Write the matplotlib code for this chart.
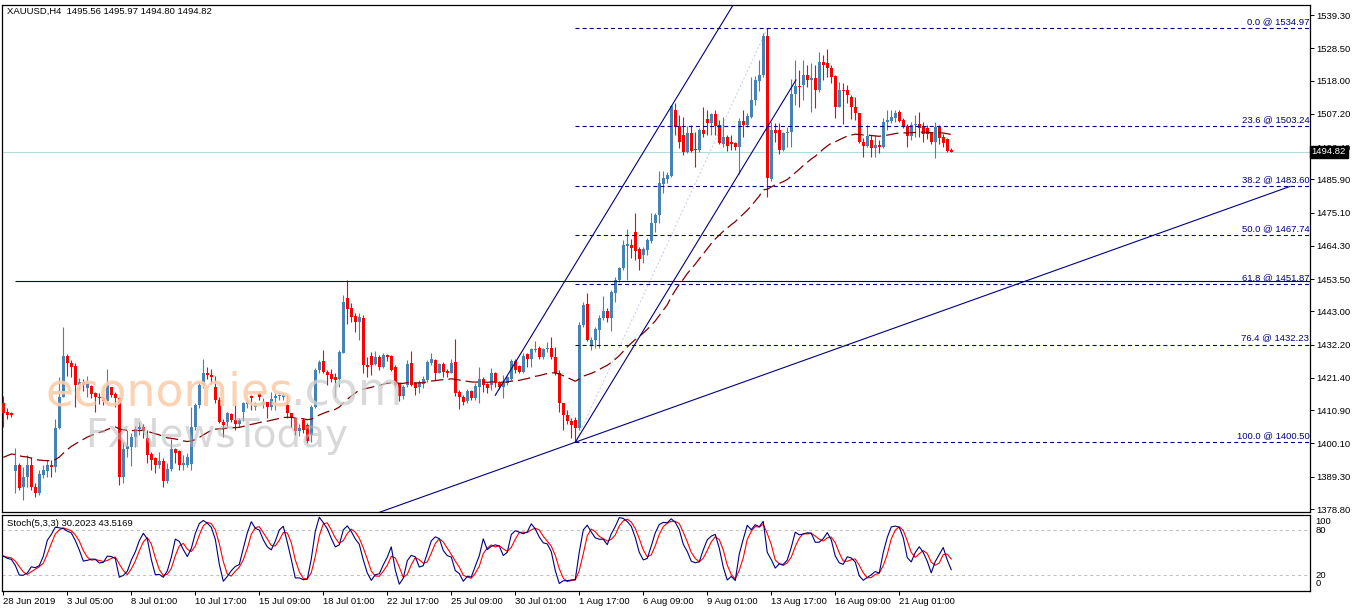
import numpy as np
import matplotlib
matplotlib.use("Agg")
import matplotlib.pyplot as plt
import matplotlib.transforms as mtransforms

plt.rcParams['font.family'] = ['Liberation Sans', 'DejaVu Sans']
plt.rcParams['lines.scale_dashes'] = False

# XAUUSD H4 bars, 28 Jun 2019 13:00 -> 22 Aug 2019
opens = [
    1413.3, 1410.4, 1409.9, 1391.1, 1393.1, 1386.1, 1389.3, 1393.1, 1385.8, 1383.9,
    1389.8, 1391.2, 1393.1, 1392.5, 1405.0, 1415.3, 1428.5, 1426.1, 1425.2, 1419.1,
    1420.1, 1418.0, 1418.8, 1416.6, 1415.1, 1415.0, 1414.0, 1418.5, 1416.2, 1414.8,
    1389.3, 1398.2, 1399.0, 1402.1, 1404.7, 1405.5, 1401.8, 1396.6, 1395.5, 1393.1,
    1394.5, 1388.0, 1391.8, 1398.2, 1397.7, 1393.1, 1393.1, 1393.5, 1405.5, 1412.6,
    1419.0, 1423.0, 1422.3, 1418.5, 1414.2, 1407.2, 1407.0, 1409.7, 1407.7, 1406.3,
    1410.4, 1413.0, 1415.5, 1412.0, 1416.4, 1412.6, 1413.7, 1412.0, 1414.8, 1415.5,
    1415.2, 1412.6, 1409.9, 1408.3, 1404.0, 1407.7, 1406.1, 1403.0, 1412.0, 1424.0,
    1427.0, 1423.4, 1422.6, 1421.8, 1421.2, 1429.6, 1447.2, 1444.0, 1441.5, 1439.7,
    1440.7, 1425.6, 1428.5, 1425.9, 1428.3, 1425.0, 1428.8, 1428.5, 1425.0, 1419.6,
    1415.5, 1419.1, 1426.1, 1419.8, 1418.3, 1419.4, 1420.7, 1426.1, 1427.2, 1423.1,
    1425.9, 1423.7, 1423.1, 1426.7, 1416.9, 1415.3, 1414.0, 1417.2, 1414.8, 1418.5,
    1421.2, 1419.4, 1419.1, 1423.1, 1420.2, 1418.5, 1419.6, 1421.2, 1427.0, 1425.2,
    1423.4, 1429.1, 1427.7, 1430.4, 1431.0, 1428.1, 1430.7, 1431.0, 1428.1, 1423.0,
    1413.1, 1409.4, 1407.5, 1407.7, 1405.0, 1438.6, 1445.4, 1432.1, 1433.7, 1437.0,
    1440.7, 1443.2, 1440.7, 1448.9, 1453.2, 1457.0, 1464.4, 1464.6, 1468.9, 1463.2,
    1461.3, 1463.0, 1466.0, 1471.6, 1474.3, 1484.4, 1485.9, 1487.0, 1508.4, 1503.2,
    1500.3, 1494.9, 1501.0, 1495.7, 1495.4, 1502.0, 1505.4, 1504.1, 1507.1, 1503.5,
    1497.4, 1499.6, 1498.1, 1497.6, 1496.3, 1505.0, 1503.6, 1506.3, 1511.7, 1518.0,
    1519.8, 1532.5, 1485.9, 1502.0, 1502.0, 1495.4, 1500.9, 1501.4, 1513.6, 1516.2,
    1516.6, 1519.8, 1518.2, 1518.7, 1514.9, 1524.1, 1523.6, 1522.0, 1519.5, 1509.5,
    1514.9, 1514.9, 1512.5, 1509.3, 1507.4, 1498.1, 1496.7, 1498.7, 1496.0, 1497.1,
    1496.5, 1504.6, 1505.0, 1505.7, 1507.9, 1505.2, 1503.2, 1500.0, 1503.5, 1503.9,
    1503.2, 1502.5, 1500.9, 1498.1, 1503.0, 1499.8, 1498.9, 1495.56,
]
highs = [
    1415.5, 1411.5, 1410.4, 1398.5, 1393.9, 1392.6, 1396.3, 1395.8, 1387.1, 1391.4,
    1393.1, 1394.7, 1394.7, 1407.9, 1421.8, 1437.8, 1429.1, 1427.2, 1426.1, 1421.3,
    1421.0, 1422.0, 1419.1, 1416.9, 1416.5, 1416.0, 1424.2, 1418.6, 1416.9, 1415.3,
    1400.6, 1404.4, 1403.4, 1405.8, 1407.0, 1406.5, 1404.4, 1397.4, 1395.8, 1397.4,
    1395.3, 1393.6, 1401.4, 1398.5, 1397.9, 1396.3, 1397.1, 1411.8, 1413.1, 1420.0,
    1427.4, 1425.0, 1424.2, 1422.0, 1415.3, 1408.0, 1410.4, 1409.9, 1413.1, 1408.3,
    1413.7, 1414.8, 1415.8, 1413.7, 1417.0, 1415.0, 1413.7, 1416.9, 1416.6, 1416.9,
    1416.5, 1415.7, 1409.9, 1408.8, 1406.5, 1408.3, 1406.6, 1412.6, 1424.5, 1427.2,
    1430.4, 1424.0, 1424.2, 1423.1, 1430.4, 1448.3, 1453.2, 1445.6, 1442.4, 1442.4,
    1441.8, 1428.3, 1429.9, 1430.2, 1429.0, 1429.5, 1429.3, 1428.8, 1425.6, 1419.8,
    1419.0, 1427.2, 1430.2, 1420.0, 1420.7, 1422.0, 1427.2, 1429.4, 1427.4, 1426.1,
    1426.7, 1424.2, 1427.7, 1433.9, 1417.5, 1416.0, 1417.7, 1417.5, 1419.6, 1424.8,
    1421.8, 1419.8, 1424.5, 1423.4, 1420.5, 1422.3, 1422.0, 1427.7, 1427.7, 1425.6,
    1429.4, 1429.6, 1431.0, 1433.5, 1431.8, 1431.0, 1433.2, 1434.6, 1431.3, 1424.0,
    1413.3, 1411.0, 1408.3, 1408.6, 1439.7, 1446.1, 1449.1, 1434.8, 1438.0, 1441.8,
    1448.0, 1444.0, 1449.9, 1454.3, 1457.3, 1466.2, 1469.7, 1466.5, 1475.1, 1464.0,
    1464.0, 1466.7, 1474.9, 1474.9, 1488.7, 1488.7, 1488.4, 1510.1, 1510.8, 1506.8,
    1506.0, 1503.2, 1503.5, 1501.4, 1502.6, 1509.3, 1508.4, 1507.6, 1508.4, 1505.2,
    1506.3, 1500.3, 1500.3, 1498.1, 1505.7, 1508.4, 1507.4, 1519.0, 1519.5, 1524.7,
    1533.3, 1534.97, 1504.7, 1504.1, 1504.1, 1501.2, 1503.0, 1518.4, 1524.7, 1521.4,
    1524.7, 1523.1, 1523.6, 1523.0, 1527.4, 1526.3, 1528.1, 1523.1, 1519.8, 1517.6,
    1517.3, 1516.5, 1513.3, 1512.8, 1507.6, 1499.2, 1503.6, 1500.3, 1500.3, 1498.7,
    1505.7, 1508.4, 1508.4, 1508.4, 1508.4, 1505.7, 1503.9, 1504.6, 1506.8, 1507.9,
    1504.6, 1503.5, 1501.4, 1504.6, 1503.5, 1500.6, 1499.2, 1495.97,
]
lows = [
    1405.6, 1408.2, 1408.8, 1383.9, 1385.0, 1381.7, 1386.1, 1385.0, 1382.8, 1383.3,
    1388.8, 1389.3, 1389.3, 1390.9, 1404.7, 1415.3, 1422.0, 1421.8, 1412.0, 1417.5,
    1417.0, 1415.3, 1414.8, 1410.4, 1413.0, 1412.5, 1413.0, 1415.3, 1412.0, 1386.6,
    1387.1, 1395.8, 1392.8, 1399.0, 1403.0, 1402.0, 1393.6, 1391.4, 1390.4, 1392.0,
    1386.1, 1387.1, 1391.3, 1393.6, 1391.4, 1391.4, 1392.5, 1391.5, 1404.5, 1411.5,
    1418.0, 1421.0, 1419.5, 1413.1, 1406.6, 1402.3, 1405.6, 1407.2, 1404.5, 1405.6,
    1407.5, 1411.5, 1411.0, 1411.0, 1414.2, 1411.5, 1408.3, 1411.0, 1411.0, 1414.2,
    1414.2, 1408.3, 1405.6, 1402.8, 1402.5, 1403.4, 1400.1, 1400.5, 1411.5, 1422.9,
    1422.9, 1419.1, 1420.2, 1415.3, 1418.5, 1429.4, 1438.9, 1439.7, 1436.4, 1433.7,
    1422.9, 1421.8, 1422.3, 1425.6, 1424.0, 1424.5, 1427.0, 1423.5, 1418.5, 1414.0,
    1414.5, 1418.5, 1418.8, 1415.8, 1416.4, 1418.0, 1420.2, 1425.6, 1420.7, 1422.9,
    1421.8, 1421.8, 1422.9, 1415.5, 1411.2, 1412.5, 1413.4, 1414.2, 1414.2, 1413.4,
    1416.9, 1416.4, 1417.5, 1418.5, 1417.7, 1414.8, 1419.1, 1420.7, 1422.9, 1422.9,
    1422.9, 1425.0, 1424.8, 1429.9, 1427.7, 1427.7, 1429.9, 1427.7, 1422.3, 1410.4,
    1404.5, 1406.5, 1401.8, 1400.5, 1404.6, 1438.0, 1433.5, 1430.4, 1431.0, 1431.0,
    1440.2, 1439.7, 1436.7, 1445.9, 1452.7, 1456.5, 1453.2, 1460.5, 1459.7, 1456.5,
    1458.6, 1461.3, 1465.1, 1468.9, 1471.8, 1481.6, 1484.6, 1486.8, 1500.3, 1496.0,
    1493.8, 1494.4, 1494.9, 1490.0, 1494.9, 1499.8, 1500.3, 1500.3, 1500.3, 1497.4,
    1496.3, 1495.2, 1495.4, 1495.4, 1487.6, 1499.8, 1503.0, 1505.7, 1510.0, 1514.7,
    1519.0, 1480.3, 1485.5, 1498.2, 1494.2, 1495.0, 1496.5, 1496.5, 1510.1, 1509.3,
    1511.7, 1515.8, 1507.9, 1509.0, 1514.4, 1518.2, 1519.0, 1517.1, 1505.7, 1509.3,
    1503.9, 1510.6, 1505.4, 1505.2, 1497.6, 1493.3, 1496.5, 1493.3, 1493.1, 1494.4,
    1496.0, 1501.9, 1504.1, 1504.6, 1504.6, 1502.5, 1496.5, 1498.7, 1499.8, 1499.8,
    1498.1, 1499.0, 1497.4, 1492.7, 1497.4, 1496.5, 1494.9, 1494.80,
]
closes = [
    1410.1, 1409.5, 1409.4, 1393.1, 1385.5, 1389.3, 1393.1, 1386.1, 1383.9, 1390.2,
    1391.4, 1393.1, 1392.5, 1405.0, 1415.3, 1428.5, 1426.1, 1425.0, 1419.1, 1420.1,
    1419.0, 1420.0, 1416.2, 1415.1, 1415.0, 1414.0, 1419.0, 1415.8, 1414.8, 1389.3,
    1398.2, 1399.3, 1402.3, 1404.7, 1405.5, 1404.0, 1396.3, 1394.7, 1393.1, 1394.5,
    1388.0, 1391.8, 1398.2, 1396.9, 1393.1, 1393.6, 1395.6, 1405.5, 1412.6, 1419.0,
    1423.0, 1422.3, 1421.8, 1414.2, 1407.2, 1406.0, 1409.9, 1407.7, 1406.5, 1407.6,
    1413.4, 1413.5, 1414.8, 1412.6, 1415.1, 1413.7, 1412.0, 1414.5, 1415.5, 1415.8,
    1415.7, 1409.9, 1408.3, 1404.0, 1405.0, 1404.5, 1401.0, 1412.0, 1424.0, 1426.7,
    1423.4, 1422.3, 1421.2, 1420.7, 1429.9, 1446.2, 1443.7, 1441.3, 1439.7, 1441.3,
    1425.6, 1425.0, 1425.6, 1428.1, 1425.0, 1428.8, 1428.1, 1424.0, 1419.1, 1415.5,
    1418.5, 1425.9, 1419.1, 1418.0, 1420.2, 1421.2, 1426.7, 1427.4, 1423.1, 1425.9,
    1423.4, 1423.1, 1426.1, 1416.6, 1415.3, 1413.5, 1417.2, 1414.8, 1418.8, 1421.2,
    1419.1, 1418.0, 1423.1, 1419.8, 1418.5, 1419.8, 1421.6, 1427.0, 1424.0, 1423.4,
    1428.5, 1427.7, 1430.7, 1430.7, 1428.1, 1430.7, 1431.0, 1428.1, 1423.0, 1413.1,
    1409.4, 1407.5, 1406.0, 1405.0, 1438.6, 1445.1, 1433.7, 1433.7, 1437.2, 1440.7,
    1443.2, 1440.7, 1449.4, 1453.2, 1457.0, 1464.6, 1464.8, 1463.6, 1462.7, 1459.9,
    1463.2, 1466.2, 1471.6, 1474.3, 1484.6, 1486.2, 1487.3, 1509.7, 1503.0, 1498.0,
    1494.9, 1501.1, 1495.2, 1495.4, 1502.0, 1500.6, 1504.1, 1507.1, 1503.2, 1497.6,
    1499.6, 1496.7, 1497.4, 1496.3, 1505.0, 1503.6, 1506.5, 1511.7, 1518.2, 1519.8,
    1532.5, 1486.2, 1502.0, 1500.9, 1495.4, 1500.9, 1501.4, 1513.6, 1516.2, 1516.0,
    1519.8, 1518.2, 1518.7, 1514.9, 1524.1, 1523.1, 1522.0, 1519.3, 1509.5, 1514.9,
    1514.6, 1513.3, 1509.3, 1507.4, 1498.1, 1496.7, 1500.0, 1496.0, 1497.1, 1496.5,
    1504.6, 1505.2, 1506.0, 1507.6, 1505.0, 1502.8, 1500.0, 1503.5, 1503.9, 1502.5,
    1500.6, 1500.6, 1498.1, 1503.0, 1499.5, 1497.8, 1495.2, 1494.82,
]

date_labels = ["28 Jun 2019", "3 Jul 05:00", "8 Jul 01:00", "10 Jul 17:00", "15 Jul 09:00",
               "18 Jul 01:00", "22 Jul 17:00", "25 Jul 09:00", "30 Jul 01:00", "1 Aug 17:00",
               "6 Aug 09:00", "9 Aug 01:00", "13 Aug 17:00", "16 Aug 09:00", "21 Aug 01:00"]
date_bars = [0, 16, 32, 48, 64, 80, 96, 112, 128, 144, 160, 176, 192, 208, 224]

axis_prices = [1539.30, 1528.50, 1518.00, 1507.20, 1496.40, 1485.90, 1475.10, 1464.30,
               1453.50, 1443.00, 1432.20, 1421.40, 1410.90, 1400.10, 1389.30, 1378.80]

fib_ratios = ["0.0", "23.6", "38.2", "50.0", "61.8", "76.4", "100.0"]
fib_levels = [1534.97, 1503.24, 1483.60, 1467.74, 1451.87, 1432.23, 1400.50]
fib_low_bar, fib_high_bar = 143, 191

hline_price, hline_start = 1452.9, 3
trend_a, trend_b = (143, 1400.50), (321.7, 1483.6)
chan_a, chan_b = (143, 1400.50), (198.2, 1518.2)
chan_upper_start, chan_upper_end, chan_shift = 123, 205, 57.9

ma_period, ma_seed = 50, 1395.0
header = "XAUUSD,H4  1495.56 1495.97 1494.80 1494.82"
stoch_label = "Stoch(5,3,3) 30.2023 43.5169"

BULL, BEAR = "#4682b4", "#ff0000"
NAVY = "#000080"

W, H = 1358, 611
fig = plt.figure(figsize=(W / 100, H / 100), dpi=100)


def fx(px):
    return px / W


def fy(py):
    return 1 - py / H


ax = fig.add_axes([fx(2), fy(512), fx(1310) - fx(2), fy(5) - fy(512)])
ax2 = fig.add_axes([fx(2), fy(591), fx(1310) - fx(2), fy(515) - fy(591)])

o, h, l, c = (np.array(v, dtype=float) for v in (opens, highs, lows, closes))
n = len(c)
idx = np.arange(n)
x_min, x_max = -0.33, 326.7

# candles
col = np.where(c >= o, BULL, BEAR)
ax.vlines(idx, l, h, colors=col, lw=0.8, zorder=3)
ax.bar(idx, np.maximum(np.abs(c - o), 0.33), bottom=np.minimum(o, c), width=0.72,
       color=col, lw=0, zorder=4)

# moving average (EMA 50)
alpha = 2.0 / (ma_period + 1)
ma = []
prev = ma_seed
for cl in c:
    prev = prev + alpha * (cl - prev)
    ma.append(prev)
ax.plot(idx, ma, color="#800000", lw=0.9, ls=(0, (9, 3.6)), zorder=5)

# current price line
ax.axhline(c[-1], color="#b2dcd8", lw=0.75, zorder=1)

# horizontal support line
ax.hlines(hline_price, hline_start, x_max, color=NAVY, lw=0.8, zorder=6)

# long trendline
slope = (trend_b[1] - trend_a[1]) / (trend_b[0] - trend_a[0])
tx = np.array([trend_a[0] - 80, trend_b[0]])
ax.plot(tx, trend_a[1] + slope * (tx - trend_a[0]), color=NAVY, lw=0.8, zorder=6)

# channel
cs = (chan_b[1] - chan_a[1]) / (chan_b[0] - chan_a[0])
ax.plot([chan_a[0], chan_b[0]], [chan_a[1], chan_b[1]], color=NAVY, lw=0.8, zorder=6)
ux = np.array([chan_upper_start, chan_upper_end])
ax.plot(ux, chan_a[1] + chan_shift + cs * (ux - chan_a[0]), color=NAVY, lw=0.8, zorder=6)

# fibonacci
ax.plot([fib_low_bar, fib_high_bar], [fib_levels[-1], fib_levels[0]], color="#cfd0f2",
        lw=0.8, ls=(0, (1.5, 1.5)), zorder=2)
tr = mtransforms.blended_transform_factory(ax.transAxes, ax.transData)
for r, lv in zip(fib_ratios, fib_levels):
    ax.hlines(lv, fib_low_bar, x_max, color=NAVY, lw=0.8, ls=(0, (2.9, 2.2)), zorder=6)
    ax.text(0.9995, lv + 0.6, f"{r} @ {lv:.2f}", transform=tr, ha="right", va="bottom",
            fontsize=6.8, color=NAVY, zorder=7)

ax.set_xlim(x_min, x_max)
ax.set_ylim(1377.83, 1542.55)
ax.set_xticks([])
ax.yaxis.tick_right()
ax.set_yticks(axis_prices)
ax.set_yticklabels([f"{p:.2f}" for p in axis_prices])
ax.tick_params(axis="y", direction="out", length=3, width=0.7, pad=1.5, labelsize=6.8)
for s in ax.spines.values():
    s.set_linewidth(0.9)

ax.text(1.0012, c[-1], f"{c[-1]:.2f}", transform=tr, ha="left", va="center",
        fontsize=6.8, color="white", zorder=10, clip_on=False,
        bbox=dict(facecolor="black", edgecolor="black", boxstyle="square,pad=0.2"))

# stochastic 5,3,3
hh = np.array([h[max(0, i - 4):i + 1].max() for i in range(n)])
ll = np.array([l[max(0, i - 4):i + 1].min() for i in range(n)])
num, den = c - ll, hh - ll
k_main = np.array([num[max(0, i - 2):i + 1].sum() / den[max(0, i - 2):i + 1].sum() * 100
                   for i in range(n)])
d_sig = np.array([k_main[max(0, i - 2):i + 1].mean() for i in range(n)])

ax2.axhline(80, color="#c0c0c0", lw=0.75, ls=(0, (2.2, 2.2)))
ax2.axhline(20, color="#c0c0c0", lw=0.75, ls=(0, (2.2, 2.2)))
ax2.plot(idx, d_sig, color="#ff0000", lw=0.8)
ax2.plot(idx, k_main, color=NAVY, lw=0.8)
ax2.set_xlim(x_min, x_max)
ax2.set_ylim(-1.3, 100.5)
ax2.set_yticks([])
ax2.set_xticks(date_bars)
ax2.set_xticklabels(date_labels, ha="left")
ax2.tick_params(axis="x", direction="out", length=3, width=0.7, pad=1.5, labelsize=6.8)
for s in ax2.spines.values():
    s.set_linewidth(0.9)
tr2 = mtransforms.blended_transform_factory(ax2.transAxes, ax2.transData)
for lab, yv in [("100", 92), ("80", 80), ("20", 20), ("0", 9)]:
    ax2.text(1.004, yv, lab, transform=tr2, ha="left", va="center", fontsize=6.8,
             clip_on=False)

fig.text(fx(7), fy(11), header, fontsize=6.8, va="center")
fig.text(fx(7), fy(523), stoch_label, fontsize=6.8, va="center")

# watermark
fig.text(fx(45), fy(405), "economies", fontsize=33, color="#fccdab", alpha=0.9,
         family="DejaVu Sans", va="baseline")
fig.text(fx(290), fy(405), ".com", fontsize=33, color="#d0d0d0", alpha=0.8,
         family="DejaVu Sans", va="baseline")
fig.text(fx(85), fy(447), "FxNewsToday", fontsize=28, color="#b8b8b8", alpha=0.55,
         family="DejaVu Sans", va="baseline")

fig.savefig("out.png", dpi=100, facecolor="white")
